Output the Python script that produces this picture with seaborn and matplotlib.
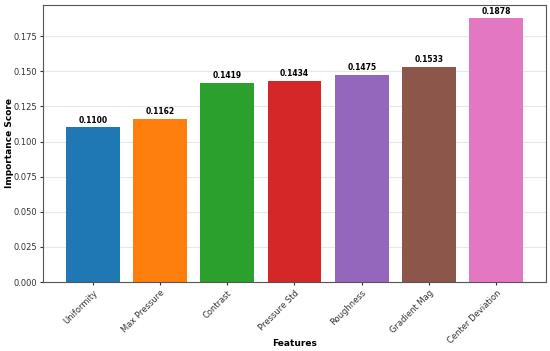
import matplotlib
matplotlib.use("Agg")
import matplotlib.pyplot as plt
import seaborn as sns
import pandas as pd

features = ['Uniformity', 'Max Pressure', 'Contrast', 'Pressure Std',
            'Roughness', 'Gradient Mag', 'Center Deviation']
scores = [0.1100, 0.1162, 0.1419, 0.1434, 0.1475, 0.1533, 0.1878]

df = pd.DataFrame({'Feature': features, 'Score': scores})

f, ax = plt.subplots(figsize=(5.5, 3.51), dpi=100)
f.subplots_adjust(left=43/550, right=546/550, top=1-5/351, bottom=1-282/351)

sns.barplot(data=df, x='Feature', y='Score', hue='Feature', palette='tab10',
            saturation=1, width=0.8, legend=False, ax=ax)

for i, v in enumerate(scores):
    ax.text(i, v + 0.0018, '%.4f' % v, ha='center', va='bottom',
            fontsize=5.5, fontweight='bold')

ax.set_xlim(-0.74, 6.74)
ax.set_ylim(0, 0.1972)
ax.grid(axis='y', alpha=0.3)
ax.set_axisbelow(True)
for s in ax.spines.values():
    s.set_color('#555555')
ax.tick_params(axis='both', labelsize=6, colors='#333333', length=2.5, pad=2)
plt.setp(ax.get_xticklabels(), rotation=45, ha='right', rotation_mode='anchor')
ax.set_xlabel('Features', fontsize=6.5, fontweight='bold', va='center')
ax.set_ylabel('Importance Score', fontsize=6.5, fontweight='bold', va='center')
ax.xaxis.set_label_coords(0.5, (282 - 344) / 277)
ax.yaxis.set_label_coords((10 - 43) / 503, 0.5)

f.savefig('out.png', dpi=100)
